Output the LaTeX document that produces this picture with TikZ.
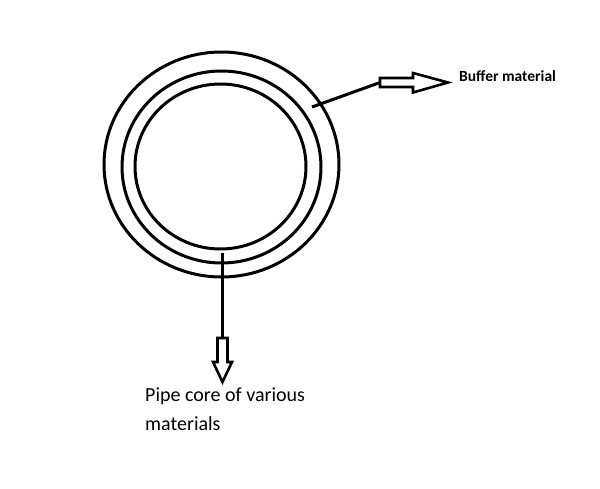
\documentclass[tikz,border=0pt]{standalone}
\usepackage{fontspec}
\setmainfont{Carlito}
\begin{document}
\begin{tikzpicture}[x=1pt,y=-1pt,
  ring/.style={line width=3pt},
  lead/.style={line width=3pt},
  hollow/.style={line width=2.6pt,line join=miter},
  lbl/.style={inner sep=0pt,align=left}]
\useasboundingbox (0,0) rectangle (600,489);
% the three rings
\draw[ring] (221.5,164.5) ellipse [x radius=117.5pt, y radius=112.5pt];
\draw[ring] (221.5,167) ellipse [x radius=99.5pt, y radius=96pt];
\draw[ring] (220.5,166.5) ellipse [x radius=85.5pt, y radius=82.5pt];
% buffer pointer
\coordinate (buf) at (312,107);
\coordinate (bufarr) at (380,82.5);
\draw[lead] (buf) -- (bufarr);
\draw[hollow] (bufarr) ++(0,-4.5) -- ++(33,0) -- ++(0,-5) -- (448,82.5)
  -- (413,92.5) -- ++(0,-5.5) -- ++(-33,0) -- cycle;
\node[lbl,anchor=base west,font=\fontsize{15.5}{18}\selectfont\bfseries] (buffer) at (459,82) {Buffer material};
% core pointer
\coordinate (core) at (222.5,253);
\coordinate (corearr) at (222.5,338);
\draw[lead] (core) -- (corearr);
\draw[hollow] (corearr) ++(-5,0) -- ++(0,24) -- ++(-4.5,0) -- (222.5,382)
  -- (232,362) -- ++(-4.5,0) -- ++(0,-24) -- cycle;
\node[lbl,anchor=base west,font=\fontsize{20}{29}\selectfont] (pipe) at (145,430) {Pipe core of various\\materials};
\end{tikzpicture}
\end{document}
